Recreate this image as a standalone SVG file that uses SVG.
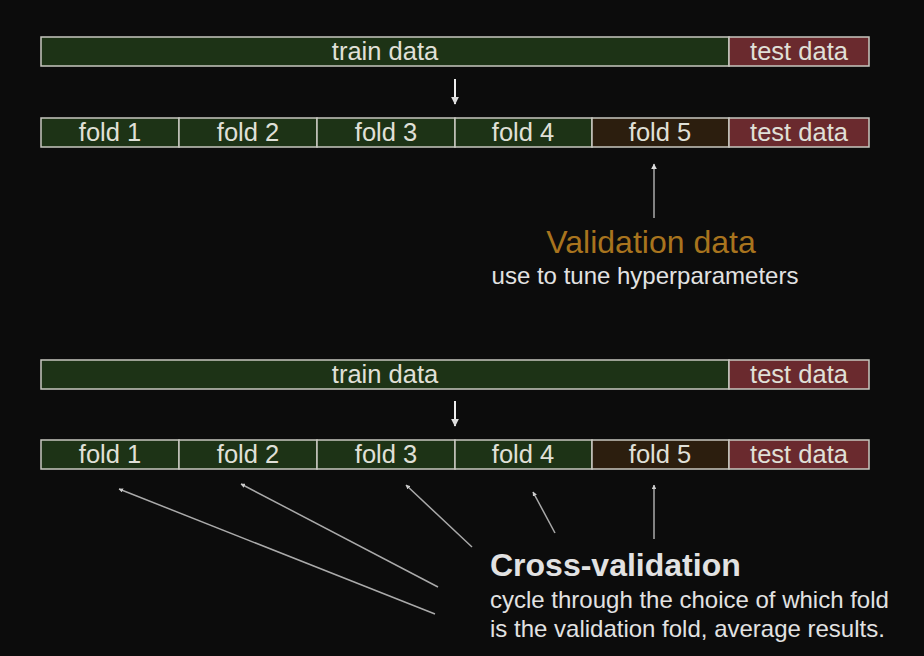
<svg xmlns="http://www.w3.org/2000/svg" width="924" height="656" viewBox="0 0 924 656">
<defs>
<style>
.bar{stroke:#c8c8c0;stroke-width:1.5}
.tr{fill:#1d3316}
.te{fill:#6a2a2e}
.va{fill:#2c1e0e}
.lb{font-family:"Liberation Sans",Arial,sans-serif;font-size:25.5px;fill:#e0e0d8;text-anchor:middle}
.ln{stroke:#aaaaaa;stroke-width:1.5;fill:none}
.t{font-family:"Liberation Sans",Arial,sans-serif;fill:#e2e2e2}
</style>
<marker id="ah" viewBox="0 0 10 10" refX="9" refY="5" markerWidth="4" markerHeight="4" orient="auto"><path d="M0,0 L10,5 L0,10 z" fill="#dddddd"/></marker>
<marker id="ahs" viewBox="0 0 10 10" refX="9" refY="5" markerWidth="3" markerHeight="3" orient="auto"><path d="M0,0 L10,5 L0,10 z" fill="#cccccc"/></marker>
</defs>
<rect width="924" height="656" fill="#0c0c0c"/>
<g id="top-train"><rect class="bar tr" x="41" y="37" width="688" height="29"/><text class="lb" x="385" y="60">train data</text></g>
<g id="top-test"><rect class="bar te" x="729" y="37" width="140" height="29"/><text class="lb" x="799" y="60">test data</text></g>
<g id="r1-fold1"><rect class="bar tr" x="41" y="118" width="138" height="29"/><text class="lb" x="110" y="141">fold 1</text></g>
<g id="r1-fold2"><rect class="bar tr" x="179" y="118" width="138" height="29"/><text class="lb" x="248" y="141">fold 2</text></g>
<g id="r1-fold3"><rect class="bar tr" x="317" y="118" width="138" height="29"/><text class="lb" x="386" y="141">fold 3</text></g>
<g id="r1-fold4"><rect class="bar tr" x="455" y="118" width="137" height="29"/><text class="lb" x="523" y="141">fold 4</text></g>
<g id="r1-fold5"><rect class="bar va" x="592" y="118" width="137" height="29"/><text class="lb" x="660" y="141">fold 5</text></g>
<g id="r1-test"><rect class="bar te" x="729" y="118" width="140" height="29"/><text class="lb" x="799" y="141">test data</text></g>
<g id="validation-label"><text class="t" x="651" y="253" font-size="32" text-anchor="middle" style="fill:#a8741e">Validation data</text><text class="t" x="645" y="284" font-size="24" text-anchor="middle">use to tune hyperparameters</text></g>
<g id="bot-train"><rect class="bar tr" x="41" y="360" width="688" height="29"/><text class="lb" x="385" y="383">train data</text></g>
<g id="bot-test"><rect class="bar te" x="729" y="360" width="140" height="29"/><text class="lb" x="799" y="383">test data</text></g>
<g id="r2-fold1"><rect class="bar tr" x="41" y="440" width="138" height="29"/><text class="lb" x="110" y="463">fold 1</text></g>
<g id="r2-fold2"><rect class="bar tr" x="179" y="440" width="138" height="29"/><text class="lb" x="248" y="463">fold 2</text></g>
<g id="r2-fold3"><rect class="bar tr" x="317" y="440" width="138" height="29"/><text class="lb" x="386" y="463">fold 3</text></g>
<g id="r2-fold4"><rect class="bar tr" x="455" y="440" width="137" height="29"/><text class="lb" x="523" y="463">fold 4</text></g>
<g id="r2-fold5"><rect class="bar va" x="592" y="440" width="137" height="29"/><text class="lb" x="660" y="463">fold 5</text></g>
<g id="r2-test"><rect class="bar te" x="729" y="440" width="140" height="29"/><text class="lb" x="799" y="463">test data</text></g>
<g id="cv-label"><text class="t" x="490" y="576" font-size="32" font-weight="bold">Cross-validation</text><text class="t" x="490" y="608" font-size="24">cycle through the choice of which fold</text><text class="t" x="490" y="637" font-size="24">is the validation fold, average results.</text></g>
<g id="connectors">
<line class="ln" x1="455" y1="79" x2="455" y2="104" style="stroke:#eeeeee;stroke-width:2" marker-end="url(#ah)"/>
<line class="ln" x1="455" y1="401" x2="455" y2="426" style="stroke:#eeeeee;stroke-width:2" marker-end="url(#ah)"/>
<line class="ln" x1="654" y1="218" x2="654" y2="164" marker-end="url(#ah)"/>
<line class="ln" x1="435" y1="614" x2="119" y2="489" marker-end="url(#ahs)"/>
<line class="ln" x1="438" y1="587" x2="241" y2="484" marker-end="url(#ahs)"/>
<line class="ln" x1="472" y1="547" x2="406" y2="485" marker-end="url(#ahs)"/>
<line class="ln" x1="555" y1="533" x2="533" y2="492" marker-end="url(#ahs)"/>
<line class="ln" x1="654" y1="539" x2="654" y2="485" marker-end="url(#ahs)"/>
</g>
</svg>
